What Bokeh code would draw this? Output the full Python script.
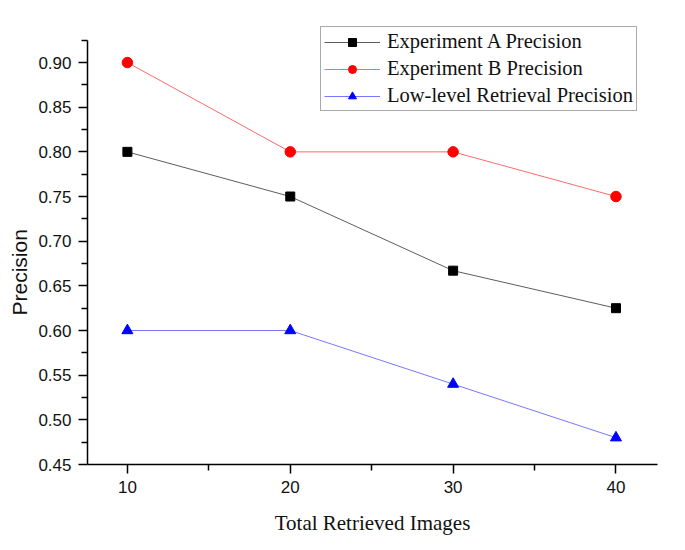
from bokeh.plotting import figure
from bokeh.models import FixedTicker, Legend, LegendItem, Range1d, NumeralTickFormatter, Title
from bokeh.embed import file_html
from bokeh.resources import INLINE

retrieved = [10, 20, 30, 40]
exp_a = [0.80, 0.75, 0.667, 0.625]
exp_b = [0.90, 0.80, 0.80, 0.75]
low_level = [0.60, 0.60, 0.54, 0.48]
y_ticks = [0.45, 0.50, 0.55, 0.60, 0.65, 0.70, 0.75, 0.80, 0.85, 0.90]
y_minor = [0.475, 0.525, 0.575, 0.625, 0.675, 0.725, 0.775, 0.825, 0.875, 0.925]
x_minor = [15, 25, 35]

p = figure(width=685, height=550, output_backend="svg", toolbar_location=None,
           x_range=Range1d(7.55, 42.55), y_range=Range1d(0.45, 0.9493),
           min_border_left=87, min_border_right=28, min_border_top=18, min_border_bottom=86)
p.outline_line_color = None
p.grid.visible = False
p.background_fill_color = "white"

la = p.line(retrieved, exp_a, line_color="#333333", line_width=0.8)
ma = p.scatter(retrieved, exp_a, marker="square", size=9, color="black")
lb = p.line(retrieved, exp_b, line_color="#ff4444", line_width=0.8)
mb = p.scatter(retrieved, exp_b, marker="circle", size=10.5, color="#ff0000")
lc = p.line(retrieved, low_level, line_color="#5555ff", line_width=0.8)
mc = p.scatter(retrieved, low_level, marker="triangle", size=11, color="#0000ff")

p.xaxis.ticker = FixedTicker(ticks=retrieved, minor_ticks=x_minor)
p.yaxis.ticker = FixedTicker(ticks=y_ticks, minor_ticks=y_minor)
p.yaxis.formatter = NumeralTickFormatter(format="0.00")
p.yaxis.bounds = (0.45, 0.925)

for ax in (p.xaxis, p.yaxis):
    ax.major_label_text_font = "Liberation Sans"
    ax.major_label_text_font_size = "17px"
    ax.major_label_text_color = "#111111"
    ax.axis_line_color = "black"
    ax.axis_line_width = 1.5
    ax.major_tick_line_width = 1.5
    ax.minor_tick_line_width = 1.5
    ax.major_tick_out = 9
    ax.major_tick_in = 0
    ax.minor_tick_out = 6
    ax.minor_tick_in = 0
    ax.major_label_standoff = 7

p.xaxis.axis_label = "Total Retrieved Images"
p.xaxis.axis_label_text_font = "Liberation Serif"
p.xaxis.axis_label_text_font_style = "normal"
p.xaxis.axis_label_text_font_size = "21px"
p.xaxis.axis_label_text_color = "#111111"
p.xaxis.axis_label_standoff = 15

ytitle = Title(text="Precision", align="left", offset=149, text_font="Liberation Sans",
               text_font_style="normal", text_font_size="21px", text_color="#111111",
               standoff=10)
p.add_layout(ytitle, "left")

legend = Legend(items=[
    LegendItem(label="Experiment A Precision", renderers=[la, ma]),
    LegendItem(label="Experiment B Precision", renderers=[lb, mb]),
    LegendItem(label="Low-level Retrieval Precision", renderers=[lc, mc]),
], location=(233, 353))
legend.label_text_font = "Liberation Serif"
legend.label_text_font_size = "20.5px"
legend.label_text_color = "#111111"
legend.glyph_width = 56
legend.glyph_height = 20
legend.label_height = 20
legend.label_standoff = 7
legend.spacing = 4
legend.padding = 3
legend.margin = 0
legend.border_line_color = "#555555"
legend.border_line_width = 1
legend.background_fill_alpha = 1
p.add_layout(legend, "center")

open("out.html", "w").write(file_html(p, INLINE))
